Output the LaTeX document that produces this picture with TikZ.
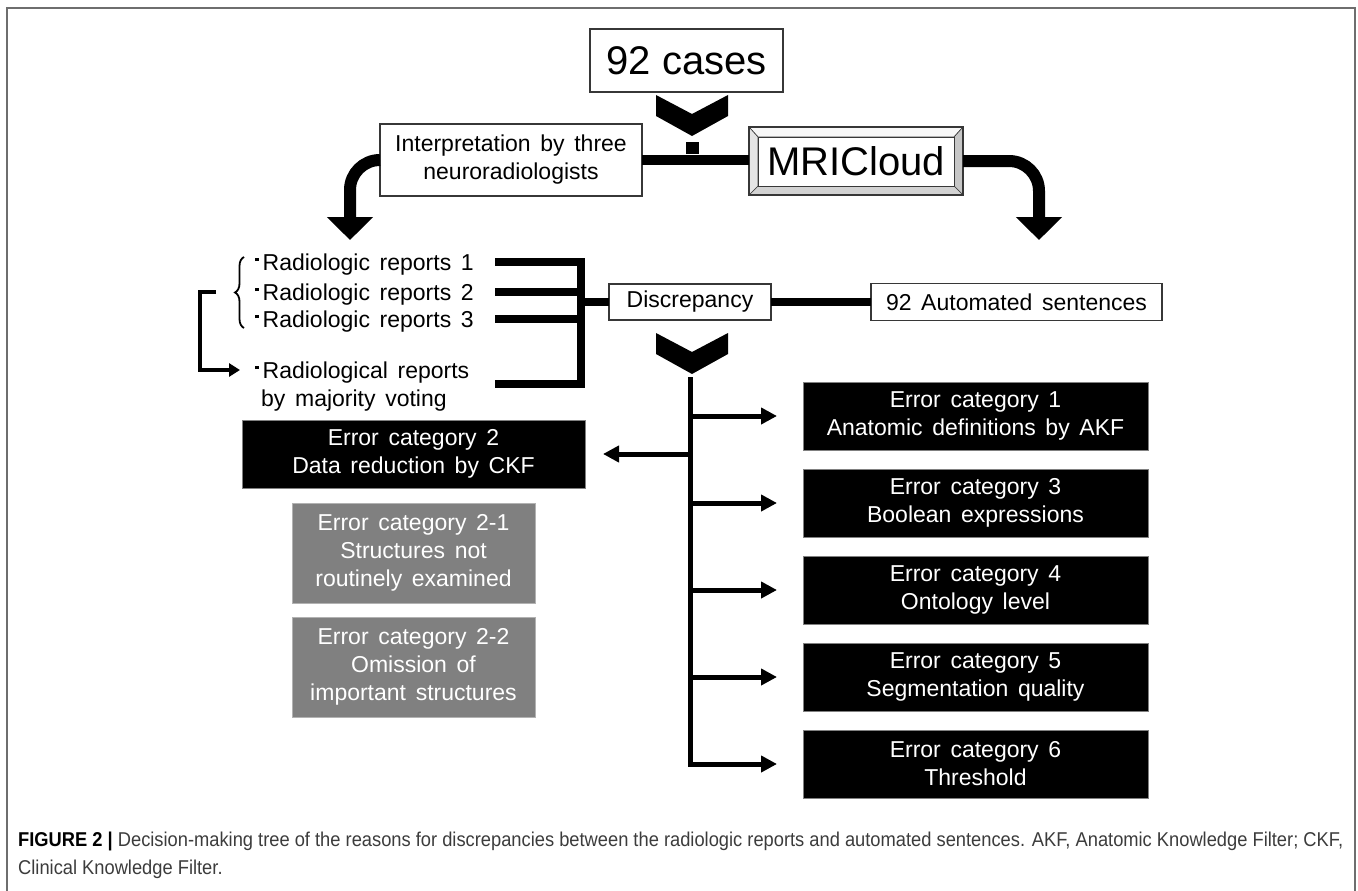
\documentclass[tikz,border=0pt]{standalone}
\usepackage{fontspec}
\setmainfont{Liberation Sans}
\newfontfamily\capfamily[FakeStretch=0.915]{Liberation Sans}
\usetikzlibrary{arrows.meta,positioning,calc,decorations.pathreplacing,backgrounds}
\definecolor{edgegray}{RGB}{55,55,55}
\definecolor{subgray}{RGB}{128,128,128}
\definecolor{framegray}{RGB}{110,110,110}
\definecolor{captext}{RGB}{60,60,60}
\newcommand{\txtbig}{\fontsize{40}{44}\selectfont}
\newcommand{\txtmid}{\fontsize{23}{28}\selectfont\spaceskip=0.42em\relax}
\newcommand{\txtcap}{\capfamily\fontsize{20}{28}\selectfont}
\newcommand{\blt}{\rule[0.4em]{3.5pt}{3.5pt}\hspace{4pt}}
\newcommand{\chev}[2]{\fill ({#1-36},{#2}) -- ({#1},{#2+19}) -- ({#1+36},{#2}) -- ({#1+36},{#2+21}) -- ({#1},{#2+41}) -- ({#1-36},{#2+21}) -- cycle;}

\begin{document}
\begin{tikzpicture}[
    x=1pt, y=-1pt,
    node distance=19pt,
    box/.style={rectangle, draw=edgegray, line width=1.5pt, fill=white, inner sep=0pt, outer sep=0pt, align=center, font=\txtmid},
    errbox/.style={rectangle, draw=gray, line width=1pt, fill=black, text=white, inner sep=0pt, outer sep=0pt, minimum width=345pt, minimum height=68pt, align=center, font=\txtmid},
    subbox/.style={rectangle, draw=gray!60, line width=1pt, fill=subgray, text=white, inner sep=0pt, outer sep=0pt, minimum width=243pt, minimum height=100pt, align=center, font=\txtmid},
    report/.style={anchor=west, inner sep=0pt, text height=16.5pt, text depth=0pt, font=\txtmid},
    bar/.style={line width=8pt},
    fatarrow/.style={line width=12pt, rounded corners=30pt, -{Triangle[width=45pt,length=23pt]}},
    branch/.style={line width=5pt, -{Triangle[width=16pt,length=16pt]}},
    elbow/.style={line width=4.5pt, -{Triangle[width=13pt,length=11pt]}}
]
\useasboundingbox (0,0) rectangle (1358,891);

% Frame
\draw[framegray, line width=2pt] (7,891) -- (7,8) -- (1355,8) -- (1355,891);

% Top boxes
\node[box, minimum width=193pt, minimum height=63pt, font=\txtbig] (cases) at (686.5,60.5) {92 cases};
\node[box, minimum width=262pt, minimum height=72pt] (interp) at (511,160) {Interpretation by three\\neuroradiologists};
\node[box, fill=none, minimum width=214pt, minimum height=68pt, font=\txtbig] (mri) at (856,161) {MRICloud};

% Bevel of MRICloud
\begin{scope}[on background layer]
\filldraw[fill=gray!6, draw=edgegray, line width=0.6pt] (mri.north west) -- (mri.north east) -- ([shift={(-9,10)}]mri.north east) -- ([shift={(9,10)}]mri.north west) -- cycle;
\filldraw[fill=gray!45, draw=edgegray, line width=0.6pt] (mri.north east) -- (mri.south east) -- ([shift={(-9,-9)}]mri.south east) -- ([shift={(-9,10)}]mri.north east) -- cycle;
\filldraw[fill=gray!35, draw=edgegray, line width=0.6pt] (mri.south east) -- (mri.south west) -- ([shift={(9,-9)}]mri.south west) -- ([shift={(-9,-9)}]mri.south east) -- cycle;
\filldraw[fill=gray!20, draw=edgegray, line width=0.6pt] (mri.south west) -- (mri.north west) -- ([shift={(9,10)}]mri.north west) -- ([shift={(9,-9)}]mri.south west) -- cycle;
\filldraw[fill=white, draw=edgegray, line width=1pt] ([shift={(9,10)}]mri.north west) rectangle ([shift={(-9,-9)}]mri.south east);
\end{scope}

% Top connectors
\chev{692}{95}
\fill (685.5,142) rectangle (698.5,154);
\draw[line width=10pt] (interp.east) -- (interp.east -| mri.west);
\coordinate (lfend) at (350,240);
\coordinate (rtend) at (1039,240);
\draw[fatarrow] (interp.west) -| (lfend);
\draw[fatarrow] (mri.east) -| (rtend);

% Reports
\node[report] (rep1) at (255,262) {\blt Radiologic reports 1};
\node[report] (rep2) at (255,292) {\blt Radiologic reports 2};
\node[report] (rep3) at (255,319) {\blt Radiologic reports 3};
\node[report] (maj) at (255,370) {\blt Radiological reports};
\node[report] (majb) at (261,398) {by majority voting};

\draw[decorate, decoration={brace, amplitude=9pt}, line width=1.8pt] (244,328) -- (244,257);
\coordinate (brc) at (235,292);
\draw[elbow, shorten <=19pt, shorten >=15pt] (brc) -- ++(-35,0) |- (maj.west);

% Discrepancy
\node[box, minimum width=162pt, minimum height=36pt] (disc) at (690,302) {Discrepancy};
\node[box, minimum width=291pt, minimum height=37pt] (auto) at (1016.5,302) {92 Automated sentences};

\coordinate (bl) at (495,0);
\coordinate (vx) at (581,0);
\coordinate (m4) at ($(maj.west)!0.5!(majb.west)$);
\draw[bar] (rep1 -| bl) -| (m4 -| vx) -- (m4 -| bl);
\draw[bar] (rep2 -| bl) -- (rep2 -| vx);
\draw[bar] (rep3 -| bl) -- (rep3 -| vx);
\draw[bar] (disc.west -| vx) -- (disc.west);
\draw[bar] (disc.east) -- (disc.east -| auto.west);
\chev{692}{333}

% Error categories
\node[errbox] (cat1) at (975.5,416) {Error category 1\\Anatomic definitions by AKF};
\node[errbox, below=of cat1] (cat3) {Error category 3\\Boolean expressions};
\node[errbox, below=of cat3] (cat4) {Error category 4\\Ontology level};
\node[errbox, below=of cat4] (cat5) {Error category 5\\Segmentation quality};
\node[errbox, below=of cat5] (cat6) {Error category 6\\Threshold};

\node[errbox, minimum width=343pt] (cat2) at (413.5,454) {Error category 2\\Data reduction by CKF};
\node[subbox, below=15pt of cat2] (sub1) {Error category 2-1\\Structures not\\routinely examined};
\node[subbox, below=14pt of sub1] (sub2) {Error category 2-2\\Omission of\\important structures};

% Tree
\coordinate (tr) at (690,377);
\draw[branch, shorten >=26pt] (tr) |- (cat6.west);
\foreach \c in {cat1,cat3,cat4,cat5}
  \draw[branch, shorten >=26pt] (tr |- \c.west) -- (\c.west);
\draw[branch, shorten >=18pt] (tr |- cat2.east) -- (cat2.east);

% Caption
\node[anchor=base west, inner sep=0pt, font=\txtcap, text=captext] (cap1) at (18,846) {\textbf{\color{black}FIGURE 2 |} Decision-making tree of the reasons for discrepancies between the radiologic reports and automated sentences. AKF, Anatomic Knowledge Filter; CKF,};
\node[anchor=base west, inner sep=0pt, font=\txtcap, text=captext] (cap2) at (18,874) {Clinical Knowledge Filter.};

\end{tikzpicture}
\end{document}
